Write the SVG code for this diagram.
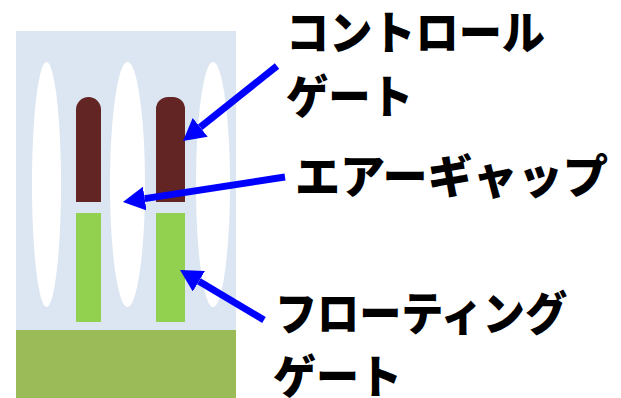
<svg xmlns="http://www.w3.org/2000/svg" width="621" height="398" viewBox="0 0 621 398">
  <style>
    .label { font-family: "Noto Sans CJK JP", "Noto Sans", sans-serif; font-weight: 900; font-size: 46px; fill: #000; }
    .arrow { stroke: #0000FF; stroke-width: 7; fill: none; marker-end: url(#head); }
    .gate-ctrl { fill: #632523; }
    .gate-float { fill: #92D050; }
    .gap { fill: #FFFFFF; }
  </style>
  <defs>
    <marker id="head" markerUnits="userSpaceOnUse" viewBox="0 -12 22 24" refX="0" refY="0" markerWidth="22" markerHeight="24" orient="auto">
      <path d="M0,-12 L22,0 L0,12 Z" fill="#0000FF"/>
    </marker>
  </defs>

  <rect width="621" height="398" fill="#FFFFFF"/>

  <!-- cell cross-section -->
  <g id="cell">
    <rect x="16" y="31" width="220" height="367" fill="#DCE6F2"/>
    <ellipse class="gap" cx="46.5" cy="184.5" rx="14.5" ry="122.5"/>
    <ellipse class="gap" cx="127.5" cy="184.5" rx="17.5" ry="122.5"/>
    <ellipse class="gap" cx="213" cy="184.5" rx="17" ry="122.5"/>
    <rect x="16" y="330" width="220" height="68" fill="#9BBB59"/>
  </g>

  <g id="control-gate-1">
    <path class="gate-ctrl" d="M76,202 V109.5 A12.5,12.5 0 0 1 101,109.5 V202 Z"/>
  </g>
  <g id="floating-gate-1">
    <rect class="gate-float" x="76" y="213" width="25" height="109"/>
  </g>
  <g id="control-gate-2">
    <path class="gate-ctrl" d="M156,202 V109 A12,12 0 0 1 168,97 H173 A12,12 0 0 1 185,109 V202 Z"/>
  </g>
  <g id="floating-gate-2">
    <rect class="gate-float" x="156" y="213" width="29" height="109"/>
  </g>

  <!-- labels -->
  <g id="label-control-gate">
    <text class="label" x="286" y="49" textLength="259" lengthAdjust="spacingAndGlyphs">コントロール</text>
    <text class="label" x="286" y="113" textLength="127" lengthAdjust="spacingAndGlyphs">ゲート</text>
  </g>
  <g id="label-air-gap">
    <text class="label" x="295" y="193" textLength="313" lengthAdjust="spacingAndGlyphs">エアーギャップ</text>
  </g>
  <g id="label-floating-gate">
    <text class="label" x="275" y="330" textLength="292" lengthAdjust="spacingAndGlyphs">フローティング</text>
    <text class="label" x="273" y="393" textLength="129" lengthAdjust="spacingAndGlyphs">ゲート</text>
  </g>

  <!-- connectors -->
  <g id="connectors">
    <line class="arrow" x1="277" y1="66" x2="200.2" y2="127.3"/>
    <line class="arrow" x1="285" y1="177" x2="144.7" y2="198.6"/>
    <line class="arrow" x1="264" y1="320" x2="198.9" y2="281.2"/>
  </g>
</svg>
